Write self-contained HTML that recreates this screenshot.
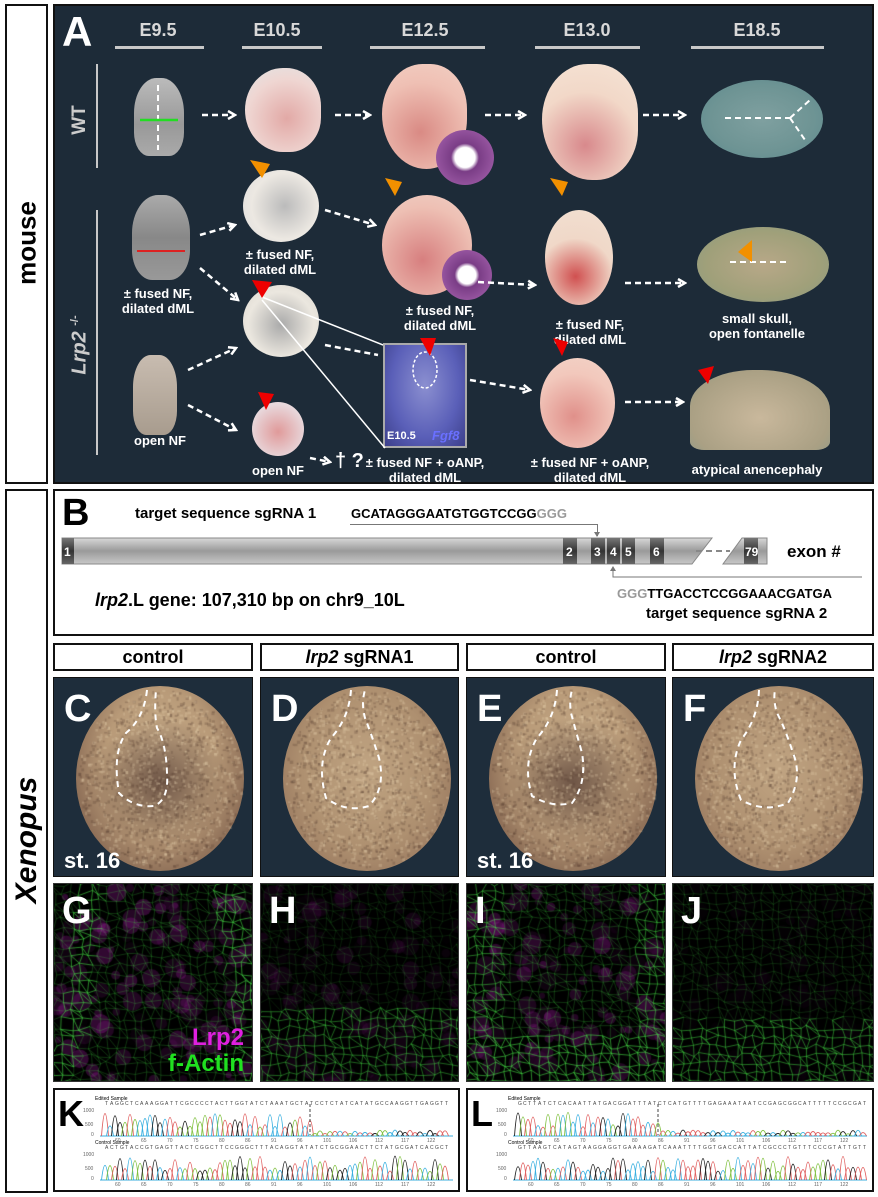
<!DOCTYPE html>
<html><head><meta charset="utf-8">
<style>
*{margin:0;padding:0;box-sizing:border-box}
body{width:878px;height:1197px;background:#fff;position:relative;font-family:"Liberation Sans",Arial,sans-serif;overflow:hidden}
.abs{position:absolute}
.box{position:absolute;border:2px solid #111}
.dark{background:#1d2b38}
.lbl{position:absolute;color:#fff;font-weight:bold;font-size:13px;text-align:center;line-height:15px;white-space:nowrap;transform:translateX(-50%)}
.hd{position:absolute;color:#d8d8d8;font-weight:bold;font-size:18px;transform:translateX(-50%)}
.ul{position:absolute;height:3px;background:#c8c8c8}
.emb{position:absolute;border-radius:50%}
.hdr{position:absolute;top:643px;height:28px;border:2px solid #111;font-weight:bold;font-size:18px;text-align:center;line-height:24px}
.pn{position:absolute;top:677px;height:200px;background:#1e2d3b;border:1px solid #111;overflow:hidden}
.fl{position:absolute;top:883px;height:199px;background:#000;border:1px solid #333;overflow:hidden}
.L{position:absolute;color:#fff;font-weight:bold;font-size:38px;line-height:38px}
.egg{position:absolute;left:22px;top:8px;width:168px;height:185px;border-radius:50%;
background:radial-gradient(ellipse 40% 35% at 50% 52%,#6e5546 0%,rgba(110,85,70,0) 100%),radial-gradient(ellipse at 50% 40%,#c8ad8a 0%,#b89a78 45%,#8c6d56 75%,#b09070 90%,rgba(180,150,120,0) 100%)}
.egg2{background:radial-gradient(ellipse at 50% 45%,#c0a482 0%,#ae9070 55%,#9a7a60 80%,rgba(190,160,130,0) 100%)}
canvas{position:absolute;left:0;top:0}
</style></head><body>

<div class="box" style="left:5px;top:4px;width:43px;height:480px"></div>
<div class="abs" style="left:27px;top:243px;transform:translate(-50%,-50%) rotate(-90deg);font-weight:bold;font-size:26px;white-space:nowrap">mouse</div>

<div class="box dark" style="left:53px;top:4px;width:821px;height:480px"></div>
<div class="abs" style="left:62px;top:8px;color:#fff;font-weight:bold;font-size:42px">A</div>
<div class="hd" style="left:158px;top:20px">E9.5</div><div class="ul" style="left:115px;top:46px;width:89px"></div>
<div class="hd" style="left:277px;top:20px">E10.5</div><div class="ul" style="left:242px;top:46px;width:80px"></div>
<div class="hd" style="left:425px;top:20px">E12.5</div><div class="ul" style="left:370px;top:46px;width:115px"></div>
<div class="hd" style="left:587px;top:20px">E13.0</div><div class="ul" style="left:535px;top:46px;width:105px"></div>
<div class="hd" style="left:757px;top:20px">E18.5</div><div class="ul" style="left:691px;top:46px;width:133px"></div>

<div class="ul" style="left:96px;top:64px;width:2px;height:104px"></div>
<div class="abs" style="left:80px;top:120px;transform:translate(-50%,-50%) rotate(-90deg);color:#ccc;font-weight:bold;font-size:19px">WT</div>
<div class="ul" style="left:96px;top:210px;width:2px;height:245px"></div>
<div class="abs" style="left:80px;top:345px;transform:translate(-50%,-50%) rotate(-90deg);color:#ccc;font-weight:bold;font-style:italic;font-size:20px;white-space:nowrap">Lrp2 <sup style="font-size:11px;font-style:normal">-/-</sup></div>

<!-- WT row -->
<div class="emb" style="left:134px;top:78px;width:50px;height:78px;border-radius:45% 45% 30% 30%;background:linear-gradient(#bbb,#999 60%,#aaa)"></div>
<div class="emb" style="left:245px;top:68px;width:76px;height:84px;border-radius:55% 50% 45% 55%;background:radial-gradient(circle at 55% 60%,#e2a9a6,#efd6d2 60%,#e6e0df 85%)"></div>
<div class="emb" style="left:382px;top:64px;width:85px;height:105px;border-radius:50% 45% 50% 55%;background:radial-gradient(circle at 45% 65%,#d98a84,#efc0b4 60%,#f2d0c4)"></div>
<div class="emb" style="left:436px;top:130px;width:58px;height:55px;background:radial-gradient(circle,#fff 25%,#7a3d86 35%,#9c5aa5 80%,#fff 90%)"></div>
<div class="emb" style="left:542px;top:64px;width:96px;height:116px;border-radius:50% 45% 45% 55%;background:radial-gradient(circle at 45% 70%,#d8898c,#f2d8c8 55%,#f5e4d6)"></div>
<div class="emb" style="left:701px;top:80px;width:122px;height:78px;background:radial-gradient(ellipse,#7fa0a0,#6e9494 60%,#5c8a8e)"></div>

<!-- Lrp2 row -->
<div class="emb" style="left:132px;top:195px;width:58px;height:85px;border-radius:45% 45% 35% 35%;background:linear-gradient(#aaa,#888 50%,#999)"></div>
<div class="abs" style="left:137px;top:250px;width:48px;height:2px;background:#d22"></div>
<div class="lbl" style="left:158px;top:286px">± fused NF,<br>dilated dML</div>
<div class="emb" style="left:133px;top:355px;width:44px;height:80px;border-radius:40% 40% 30% 30%;background:linear-gradient(#c8bcb0,#a89c8e)"></div>
<div class="lbl" style="left:160px;top:433px">open NF</div>

<div class="emb" style="left:243px;top:170px;width:76px;height:72px;background:radial-gradient(circle at 55% 50%,#bbb,#ece8e2 60%,#ddd)"></div>
<div class="lbl" style="left:280px;top:247px">± fused NF,<br>dilated dML</div>
<div class="emb" style="left:243px;top:285px;width:76px;height:72px;background:radial-gradient(circle at 50% 55%,#aaa,#ebe7df 60%,#d8d4cc)"></div>
<div class="emb" style="left:252px;top:402px;width:52px;height:54px;background:radial-gradient(circle at 50% 55%,#e09a9a,#e8d8dc 70%)"></div>
<div class="lbl" style="left:278px;top:463px">open NF</div>
<div class="abs" style="left:335px;top:450px;color:#fff;font-size:20px;font-weight:bold">† ?</div>

<div class="emb" style="left:382px;top:195px;width:90px;height:100px;background:radial-gradient(circle at 45% 65%,#d77f7f,#eec0b4 65%,#f0d0c6)"></div>
<div class="emb" style="left:442px;top:250px;width:50px;height:50px;background:radial-gradient(circle,#fff 25%,#7a3d86 35%,#9c5aa5 80%,#fff 90%)"></div>
<div class="lbl" style="left:440px;top:303px">± fused NF,<br>dilated dML</div>
<div class="abs" style="left:383px;top:343px;width:84px;height:105px;border:2px solid #aaa;background:radial-gradient(ellipse at 50% 40%,#8b8fd0,#5a5fb8 60%,#3c3f8a)"></div>
<div class="abs" style="left:387px;top:430px;color:#fff;font-weight:bold;font-size:11px">E10.5</div>
<div class="abs" style="left:432px;top:428px;color:#6a70ff;font-weight:bold;font-style:italic;font-size:13px">Fgf8</div>
<div class="lbl" style="left:425px;top:455px">± fused NF + oANP,<br>dilated dML</div>

<div class="emb" style="left:545px;top:210px;width:68px;height:95px;background:radial-gradient(circle at 45% 70%,#d05050,#f0d8c8 50%,#f2e0d2)"></div>
<div class="lbl" style="left:590px;top:317px">± fused NF,<br>dilated dML</div>
<div class="emb" style="left:540px;top:358px;width:75px;height:90px;background:radial-gradient(circle at 45% 65%,#e0908a,#f2c8bc 60%,#f2d4c8)"></div>
<div class="lbl" style="left:590px;top:455px">± fused NF + oANP,<br>dilated dML</div>

<div class="emb" style="left:697px;top:227px;width:132px;height:75px;background:radial-gradient(ellipse,#b8a888,#a0a07a 60%,#8a9a80)"></div>
<div class="lbl" style="left:757px;top:311px">small skull,<br>open fontanelle</div>
<div class="emb" style="left:690px;top:370px;width:140px;height:80px;border-radius:45% 50% 10% 10%;background:radial-gradient(ellipse at 50% 60%,#c9b89c,#aaa084 70%,#8a9a88)"></div>
<div class="lbl" style="left:757px;top:462px">atypical anencephaly</div>

<svg class="abs" style="left:0;top:0" width="878" height="490">
<defs><marker id="ar" viewBox="0 0 10 10" refX="8" refY="5" markerWidth="4" markerHeight="4" orient="auto"><path d="M1 1 L8 5 L1 9" fill="none" stroke="#fff" stroke-width="2.5"/></marker></defs>
<g stroke="#fff" stroke-width="2.5" fill="none" stroke-dasharray="6,4" marker-end="url(#ar)">
<line x1="202" y1="115" x2="235" y2="115"/><line x1="335" y1="115" x2="370" y2="115"/>
<line x1="485" y1="115" x2="525" y2="115"/><line x1="643" y1="115" x2="685" y2="115"/>
<line x1="200" y1="235" x2="235" y2="225"/><line x1="200" y1="268" x2="238" y2="300"/>
<line x1="188" y1="370" x2="236" y2="348"/><line x1="188" y1="405" x2="236" y2="430"/>
<line x1="325" y1="210" x2="375" y2="225"/>
<line x1="478" y1="282" x2="535" y2="285"/><line x1="470" y1="380" x2="530" y2="390"/>
<line x1="625" y1="283" x2="685" y2="283"/><line x1="625" y1="402" x2="683" y2="402"/>
<line x1="310" y1="458" x2="330" y2="462"/>
</g>
<g stroke="#fff" stroke-width="2.5" fill="none" stroke-dasharray="6,4">
<line x1="325" y1="345" x2="378" y2="355"/>
<line x1="158" y1="85" x2="158" y2="150" stroke-width="2"/>
<line x1="725" y1="118" x2="790" y2="118" stroke-width="2"/><line x1="790" y1="118" x2="810" y2="100" stroke-width="2"/><line x1="790" y1="118" x2="805" y2="140" stroke-width="2"/>
<line x1="730" y1="262" x2="790" y2="262" stroke-width="2"/>
</g>
<line x1="140" y1="120" x2="178" y2="120" stroke="#2d2" stroke-width="2.5"/>
<g stroke="#fff" stroke-width="1.5" fill="none">
<line x1="262" y1="297" x2="383" y2="345"/><line x1="262" y1="300" x2="385" y2="448"/>
<ellipse cx="425" cy="370" rx="12" ry="18" stroke-dasharray="3,2"/>
</g>
<g fill="#f29000"><polygon points="250,160 270,164 262,178"/><polygon points="385,178 402,182 395,196"/><polygon points="550,178 568,182 562,196"/><polygon points="738,252 752,240 752,262"/></g>
<g fill="#e00"><polygon points="252,280 272,282 262,298"/><polygon points="420,338 436,338 430,356"/><polygon points="553,338 568,342 562,356"/><polygon points="698,370 714,366 708,384"/><polygon points="258,392 274,394 266,410"/></g>
</svg>

<div class="box" style="left:5px;top:489px;width:43px;height:704px"></div>
<div class="abs" style="left:27px;top:840px;transform:translate(-50%,-50%) rotate(-90deg);font-weight:bold;font-style:italic;font-size:30px;white-space:nowrap">Xenopus</div>

<div class="box" style="left:53px;top:489px;width:821px;height:147px"></div>
<div class="abs" style="left:62px;top:494px;font-weight:bold;font-size:38px;line-height:38px">B</div>
<div class="abs" style="left:135px;top:505px;font-weight:bold;font-size:15px">target sequence sgRNA 1</div>
<div class="abs" style="left:351px;top:506px;font-weight:bold;font-size:13px">GCATAGGGAATGTGGTCCGG<span style="color:#999">GGG</span></div>
<div class="abs" style="left:350px;top:524px;width:248px;height:1px;background:#777"></div>
<div class="abs" style="left:597px;top:524px;width:1px;height:12px;background:#777"></div>
<svg class="abs" style="left:0;top:0" width="878" height="640">
<defs><linearGradient id="g" x1="0" y1="0" x2="0" y2="1"><stop offset="0" stop-color="#d8d8d8"/><stop offset=".5" stop-color="#9a9a9a"/><stop offset="1" stop-color="#c8c8c8"/></linearGradient>
<linearGradient id="e" x1="0" y1="0" x2="0" y2="1"><stop offset="0" stop-color="#777"/><stop offset=".5" stop-color="#333"/><stop offset="1" stop-color="#666"/></linearGradient></defs>
<polygon points="62,538 712,538 692,564 62,564" fill="url(#g)" stroke="#888"/>
<polygon points="742,538 767,538 767,564 723,564" fill="url(#g)" stroke="#888"/>
<line x1="696" y1="551" x2="730" y2="551" stroke="#888" stroke-width="2" stroke-dasharray="6,4"/>
<g fill="url(#e)"><rect x="62" y="538" width="12" height="26"/><rect x="563" y="538" width="14" height="26"/><rect x="591" y="538" width="14" height="26"/><rect x="607" y="538" width="13" height="26"/><rect x="622" y="538" width="13" height="26"/><rect x="650" y="538" width="14" height="26"/><rect x="744" y="538" width="14" height="26"/></g>
<g fill="#fff" font-size="12" font-weight="bold" font-family="Liberation Sans"><text x="64" y="556">1</text><text x="566" y="556">2</text><text x="594" y="556">3</text><text x="610" y="556">4</text><text x="625" y="556">5</text><text x="653" y="556">6</text><text x="745" y="556">79</text></g>
<polyline points="613,568 613,577 862,577" stroke="#777" fill="none"/>
<polygon points="610,571 616,571 613,566" fill="#777"/><polygon points="594,532 600,532 597,537" fill="#777"/>
</svg>
<div class="abs" style="left:787px;top:542px;font-weight:bold;font-size:17px">exon #</div>
<div class="abs" style="left:617px;top:586px;font-weight:bold;font-size:13px"><span style="color:#999">GGG</span>TTGACCTCCGGAAACGATGA</div>
<div class="abs" style="left:646px;top:605px;font-weight:bold;font-size:15px">target sequence sgRNA 2</div>
<div class="abs" style="left:95px;top:590px;font-weight:bold;font-size:18px"><i>lrp2</i>.L gene: 107,310 bp on chr9_10L</div>

<div class="hdr" style="left:53px;width:200px">control</div>
<div class="hdr" style="left:260px;width:199px"><i>lrp2</i> sgRNA1</div>
<div class="hdr" style="left:466px;width:200px">control</div>
<div class="hdr" style="left:672px;width:202px"><i>lrp2</i> sgRNA2</div>

<div class="pn" style="left:53px;width:200px"><div class="egg"></div><canvas id="n0" width="200" height="200"></canvas><svg class="abs" width="200" height="200"><path d="M93 12 Q90 40 72 55 Q58 75 65 115 Q80 130 100 128 Q115 122 113 95 Q112 65 103 50 Q100 35 102 12" fill="none" stroke="#fff" stroke-width="2" stroke-dasharray="6,5"/></svg><div class="L" style="left:10px;top:12px">C</div><div class="abs" style="left:10px;top:170px;color:#fff;font-weight:bold;font-size:22px">st. 16</div></div>
<div class="pn" style="left:260px;width:199px"><div class="egg egg2"></div><canvas id="n1" width="199" height="200"></canvas><svg class="abs" width="200" height="200"><path d="M90 12 Q88 40 70 60 Q55 85 65 120 Q85 135 108 128 Q125 110 118 80 Q110 55 104 40 Q100 25 104 12" fill="none" stroke="#fff" stroke-width="2" stroke-dasharray="6,5"/></svg><div class="L" style="left:10px;top:12px">D</div></div>
<div class="pn" style="left:466px;width:200px"><div class="egg"></div><canvas id="n2" width="200" height="200"></canvas><svg class="abs" width="200" height="200"><path d="M90 12 Q88 40 70 60 Q55 85 65 118 Q85 130 105 125 Q120 105 115 75 Q108 50 104 35 Q102 22 105 12" fill="none" stroke="#fff" stroke-width="2" stroke-dasharray="6,5"/></svg><div class="L" style="left:10px;top:12px">E</div><div class="abs" style="left:10px;top:170px;color:#fff;font-weight:bold;font-size:22px">st. 16</div></div>
<div class="pn" style="left:672px;width:202px"><div class="egg egg2"></div><canvas id="n3" width="202" height="200"></canvas><svg class="abs" width="200" height="200"><path d="M86 12 Q85 40 68 62 Q55 90 68 122 Q92 135 115 125 Q130 100 120 75 Q112 50 104 35 Q100 22 102 12" fill="none" stroke="#fff" stroke-width="2" stroke-dasharray="6,5"/></svg><div class="L" style="left:10px;top:12px">F</div></div>

<div class="fl" style="left:53px;width:200px"><canvas id="c0" width="200" height="199"></canvas><div class="L" style="left:8px;top:8px">G</div>
<div class="abs" style="right:8px;top:140px;color:#e020e0;font-weight:bold;font-size:24px">Lrp2</div><div class="abs" style="right:8px;top:166px;color:#20e020;font-weight:bold;font-size:24px">f-Actin</div></div>
<div class="fl" style="left:260px;width:199px"><canvas id="c1" width="199" height="199"></canvas><div class="L" style="left:8px;top:8px">H</div></div>
<div class="fl" style="left:466px;width:200px"><canvas id="c2" width="200" height="199"></canvas><div class="L" style="left:8px;top:8px">I</div></div>
<div class="fl" style="left:672px;width:202px"><canvas id="c3" width="202" height="199"></canvas><div class="L" style="left:8px;top:8px">J</div></div>

<div class="box" style="left:53px;top:1088px;width:407px;height:104px;background:#fff"><svg id="k" width="403" height="100"></svg><div class="abs" style="left:3px;top:6px;font-weight:bold;font-size:36px;line-height:36px">K</div></div>
<div class="box" style="left:466px;top:1088px;width:408px;height:104px;background:#fff"><svg id="l" width="404" height="100"></svg><div class="abs" style="left:3px;top:6px;font-weight:bold;font-size:36px;line-height:36px">L</div></div>

<script>
function rnd(s){return function(){s=(s*9301+49297)%233280;return s/233280}}
// egg speckle
for(var n=0;n<4;n++){var cv=document.getElementById('n'+n),x=cv.getContext('2d'),r=rnd(n*31+7);
 for(var i=0;i<1400;i++){var a=r()*6.283,d=Math.sqrt(r())*82,px=106+Math.cos(a)*d,py=100+Math.sin(a)*d*1.08;
  x.fillStyle=r()<0.5?'rgba(80,55,45,0.25)':'rgba(235,215,180,0.25)';x.fillRect(px,py,1.5+r()*2,1.5+r()*2);}
}
var cfg=[[0.9,1.0,0],[0.35,0.55,1],[0.8,1.0,2],[0.12,0.7,3]];
for(var c=0;c<4;c++){var cv=document.getElementById('c'+c),x=cv.getContext('2d'),r=rnd(c*77+5),W=cv.width,H=199;
 var m=cfg[c][0],g=cfg[c][1],t=cfg[c][2];
 for(var i=0;i<160;i++){x.fillStyle='rgba(160,30,160,'+(m*0.35*r())+')';x.beginPath();x.arc(r()*W,r()*H,3+r()*7,0,7);x.fill();}
 var pts=[],s=9;for(var yy=0;yy<H+s;yy+=s)for(var xx=0;xx<W+s;xx+=s)pts.push([xx+r()*6-3,yy+r()*6-3]);
 var cols=Math.ceil((W+s)/s);
 x.lineWidth=0.6;
 for(var i=0;i<pts.length;i++){var p=pts[i];
  var a=g*0.4;
  if(t==0){var dx=Math.abs(p[0]-W*0.5-5*Math.sin(p[1]/60));if(dx>55+p[1]*0.15&&dx<80+p[1]*0.15)a=1;}
  if(t==2){var dx=Math.abs(p[0]-W*0.5);if(dx>65&&p[1]<150)a=0.85;if(p[1]>150)a=1;}
  if(t==1&&p[1]>120)a=0.75;if(t==3&&p[1]>135)a=0.85;
  x.strokeStyle='rgba(70,225,70,'+a+')';
  [[1,0],[0,1],[1,1]].forEach(function(d){if(d[0]&&d[1]&&r()<0.6)return;var j=i+d[0]+d[1]*cols;if(i%cols+d[0]<cols&&pts[j]){x.beginPath();x.moveTo(p[0],p[1]);x.lineTo(pts[j][0],pts[j][1]);x.stroke();}});
 }
}
function chrom(id,seed,noisyFrom){var sv=document.getElementById(id),r=rnd(seed),W=sv.getAttribute('width'),h='';
 var colors=['#222','#3ab0e0','#e06060','#80c040'];
 h+='<text x="40" y="10" font-size="5" font-family="Liberation Sans">Edited Sample</text><text x="40" y="54" font-size="5" font-family="Liberation Sans">Control Sample</text>';
 [[18,46],[62,90]].forEach(function(row,ri){var top=row[0],bot=row[1];
  h+='<line x1="45" y1="'+bot+'" x2="'+(W-5)+'" y2="'+bot+'" stroke="#7cc8e8" stroke-width="1.5"/>';
  h+='<g font-size="5" fill="#666" font-family="Liberation Sans"><text x="28" y="'+(top+4)+'">1000</text><text x="30" y="'+(bot-10)+'">500</text><text x="36" y="'+bot+'">0</text></g>';
  var seq='';
  for(var px=50;px<W-8;px+=5){var cI=Math.floor(r()*4),amp=(bot-top-4)*(0.35+r()*0.65);
   if(ri==0&&px>noisyFrom)amp*=0.25;
   h+='<path d="M'+(px-3.5)+' '+bot+' Q'+px+' '+(bot-2*amp)+' '+(px+3.5)+' '+bot+'" fill="none" stroke="'+colors[cI]+'" stroke-width="0.9"/>';
   seq+='<tspan x="'+px+'">'+'GATC'[cI]+'</tspan>';}
  h+='<text y="'+(top-3)+'" font-size="5" fill="#444" font-family="Liberation Sans">'+seq+'</text>';
  var ax='';for(var px=60;px<W-10;px+=26)ax+='<tspan x="'+px+'">'+(60+(px-60)/5|0)+'</tspan>';
  h+='<text y="'+(bot+6)+'" font-size="5" fill="#666" font-family="Liberation Sans">'+ax+'</text>';
 });
 h+='<line x1="'+noisyFrom+'" y1="14" x2="'+noisyFrom+'" y2="45" stroke="#444" stroke-dasharray="3,2"/>';
 sv.innerHTML=h;}
chrom('k',11,255);chrom('l',23,190);
</script>
</body></html>
